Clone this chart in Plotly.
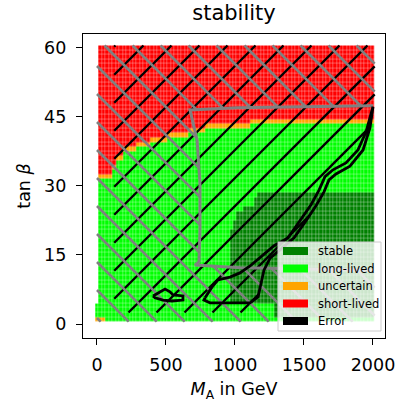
import numpy as np
import plotly.graph_objects as go

# ---------------- data ----------------
ma_values = list(range(0, 2001, 25))          # M_A scan points (GeV)
tanb_values = list(range(1, 61))              # tan(beta) scan points

category_names = ["stable", "long-lived", "uncertain", "short-lived", "Error"]
category_colors = ["#008000", "#00ff00", "#ffa500", "#ff0000", "#000000"]

# tan(beta) row of the "uncertain" band, per M_A segment (segment start, GeV)
band_ma_start = [25, 125, 150, 200, 300, 400, 525, 675, 800, 1125]
band_tanb = [32, 34, 36, 38, 39, 40, 41, 42, 43, 44]

# stable region: top row per M_A segment, bottom row per M_A segment
stable_ma_start = [975, 1000, 1025, 1075, 1150, 1175]
stable_top = [20, 22, 24, 25, 27, 28]
stable_bottom_ma_start = [975, 1300]
stable_bottom = [5, 2]

# special low-M_A / low-tan(beta) cells
first_col_uncertain_rows = [1]
first_col_long_rows = [2, 3, 4]
low_row_uncertain_ma = [0, 25, 50]

# grey hatched region (C-shaped) and its outline
grey_region_ma = [0, 2012, 2012, 2000, 1014, 674, 725, 746, 746, 739, 710, 1036, 2000, 2012, 2012, 0]
grey_region_tb = [60.5, 60.5, 47.4, 47.4, 47.0, 46.5, 40.0, 30.7, 20.4, 13.5, 12.8, 12.2, 11.7, 11.7, 0.5, 0.5]
grey_line_ma = [2000, 1014, 674, 725, 746, 746, 739, 710, 1036, 2000]
grey_line_tb = [47.4, 47.0, 46.5, 40.0, 30.7, 20.4, 13.5, 12.8, 12.2, 11.7]

# black contour: thin sliver (upper side, then lower side) and a small island
sliver_upper_ma = [783, 833, 877, 964, 1036, 1109, 1196, 1283, 1384, 1478, 1551, 1609, 1652, 1710, 1804, 1891, 1949, 2000]
sliver_upper_tb = [5.7, 8.0, 9.6, 10.2, 11.1, 12.6, 14.8, 17.0, 18.7, 22.6, 25.9, 29.1, 32.0, 33.5, 35.0, 37.8, 41.7, 47.2]
sliver_lower_ma = [2000, 1978, 1928, 1833, 1732, 1681, 1645, 1587, 1514, 1428, 1326, 1254, 1210, 1188, 1167, 1109,
                   819, 775, 783]
sliver_lower_tb = [47.2, 42.6, 37.8, 34.3, 32.6, 31.3, 28.7, 25.7, 22.4, 18.7, 16.1, 14.3, 11.7, 8.5, 5.9, 4.6,
                   4.6, 5.2, 5.7]
island_ma = [406, 442, 493, 529, 551, 623, 623, 543, 478, 420, 406]
island_tb = [6.1, 6.7, 7.6, 7.0, 6.3, 6.1, 5.2, 5.0, 5.2, 5.7, 6.1]

# black hatched region: left/top box, closed along the lower side of the sliver
black_box_ma = [1145, 125, 125, 2012, 2012]
black_box_tb = [2.5, 2.5, 60.5, 60.5, 47.4]

x_ticks = [0, 500, 1000, 1500, 2000]
y_ticks = [0, 15, 30, 45, 60]


# ---------------- build category grid ----------------
def seg_lookup(starts, vals, m):
    v = None
    for s, val in zip(starts, vals):
        if m >= s:
            v = val
    return v


z = np.full((len(tanb_values), len(ma_values)), np.nan)
for j, m in enumerate(ma_values):
    band = seg_lookup(band_ma_start, band_tanb, m)
    top = seg_lookup(stable_ma_start, stable_top, m)
    bot = seg_lookup(stable_bottom_ma_start, stable_bottom, m)
    for i, t in enumerate(tanb_values):
        if m == 0:
            if t in first_col_uncertain_rows:
                z[i, j] = 2
            elif t in first_col_long_rows:
                z[i, j] = 1
            continue
        if t < band:
            c = 1
        elif t == band:
            c = 2
        else:
            c = 3
        if t == 1 and m in low_row_uncertain_ma:
            c = 2
        if top is not None and bot <= t <= top:
            c = 0
        z[i, j] = c

n = len(category_colors)
colorscale = []
for k, col in enumerate(category_colors):
    colorscale.append([k / n, col])
    colorscale.append([(k + 1) / n, col])

# ---------------- geometry helpers ----------------
L, R, T, B = 83, 385, 34, 338
W, H = R - L, B - T
XR = [-101.4, 2087.0]
YR = [-3.04, 63.0]
SX = W / (XR[1] - XR[0])
SY = H / (YR[1] - YR[0])


def hatch(poly_x, poly_y, slope, spacing, phase):
    """Hatch lines (45 deg on screen) clipped to a polygon; returns data-space x, y lists."""
    u = [(x - XR[0]) * SX for x in poly_x]
    v = [(y - YR[0]) * SY for y in poly_y]
    npts = len(u)
    cs = [v[i] - slope * u[i] for i in range(npts)]
    k0 = int(np.floor((min(cs) - phase) / spacing))
    k1 = int(np.ceil((max(cs) - phase) / spacing))
    hx, hy = [], []
    for k in range(k0, k1 + 1):
        c = phase + k * spacing
        pts = []
        for i in range(npts):
            u1, v1 = u[i], v[i]
            u2, v2 = u[(i + 1) % npts], v[(i + 1) % npts]
            f1 = v1 - slope * u1 - c
            f2 = v2 - slope * u2 - c
            if (f1 > 0) != (f2 > 0):
                a = f1 / (f1 - f2)
                pts.append(u1 + a * (u2 - u1))
        pts.sort()
        for a_u, b_u in zip(pts[0::2], pts[1::2]):
            for uu in (a_u, b_u):
                hx.append(uu / SX + XR[0])
                hy.append((slope * uu + c) / SY + YR[0])
            hx.append(None)
            hy.append(None)
    return hx, hy


FONT = "DejaVu Sans"
fig = go.Figure()
fig.add_trace(go.Heatmap(x=ma_values, y=tanb_values, z=z, colorscale=colorscale,
                         zmin=-0.5, zmax=n - 0.5, showscale=False, xgap=0.3, ygap=0.3,
                         hoverinfo="skip"))

black_poly_x = black_box_ma + sliver_lower_ma[:15]
black_poly_y = black_box_tb + sliver_lower_tb[:15]
bx, by = hatch(black_poly_x, black_poly_y, 1, 28, 8)
fig.add_trace(go.Scatter(x=bx, y=by, mode="lines", line=dict(width=2.4, color="#000000"),
                         hoverinfo="skip", showlegend=False))
gx, gy = hatch(grey_region_ma, grey_region_tb, -1, 28, 6)
fig.add_trace(go.Scatter(x=gx, y=gy, mode="lines", line=dict(width=2.6, color="#808080"),
                         hoverinfo="skip", showlegend=False))
fig.add_trace(go.Scatter(x=grey_line_ma, y=grey_line_tb, mode="lines",
                         line=dict(width=3, color="#808080"), hoverinfo="skip", showlegend=False))
fig.add_trace(go.Scatter(x=sliver_upper_ma + sliver_lower_ma, y=sliver_upper_tb + sliver_lower_tb, mode="lines",
                         line=dict(width=2.8, color="#000000"), hoverinfo="skip", showlegend=False))
fig.add_trace(go.Scatter(x=island_ma, y=island_tb, mode="lines",
                         line=dict(width=2.8, color="#000000"), hoverinfo="skip", showlegend=False))


# ---------------- layout ----------------
def pp(px, py):
    return (px - L) / W, (B - py) / H


shapes = []
annotations = []
bx0, by0 = pp(278, 331)
bx1, by1 = pp(381, 242)
shapes.append(dict(type="rect", xref="paper", yref="paper", x0=bx0, y0=by0, x1=bx1, y1=by1,
                   fillcolor="rgba(255,255,255,0.8)", line=dict(color="#cccccc", width=1), layer="above"))
row_y = [251, 268.5, 286, 303.5, 321]
for name, col, ry in zip(category_names, category_colors, row_y):
    x0, y0 = pp(283, ry + 4)
    x1, y1 = pp(308, ry - 4)
    shapes.append(dict(type="rect", xref="paper", yref="paper", x0=x0, y0=y0, x1=x1, y1=y1,
                       fillcolor=col, line=dict(width=0), layer="above"))
    tx, ty = pp(316, ry)
    annotations.append(dict(x=tx, y=ty, xref="paper", yref="paper", text=name, showarrow=False,
                            xanchor="left", yanchor="middle", font=dict(family=FONT, size=11.5, color="#000000")))

axis_common = dict(showgrid=False, zeroline=False, ticks="outside", ticklen=6, tickwidth=1.3,
                   tickcolor="#000000", showline=True, linecolor="#000000", linewidth=1.3, mirror=True,
                   automargin=False,
                   tickfont=dict(family=FONT, size=17.5, color="#000000"))

fig.update_layout(
    width=400, height=402,
    margin=dict(l=L, r=400 - R, t=T, b=402 - B, autoexpand=False),
    paper_bgcolor="white", plot_bgcolor="white",
    showlegend=False,
    title=dict(text="stability", x=(L + R) / 2 / 400, xanchor="center", y=1 - 13 / 402, yanchor="middle",
               font=dict(family=FONT, size=21, color="#000000")),
    xaxis=dict(range=XR, tickvals=x_ticks, ticklabelstandoff=5, **axis_common,
               title=dict(text="<i>M</i><sub>A</sub> in GeV", font=dict(family=FONT, size=17.5, color="#000000"),
                          standoff=8)),
    yaxis=dict(range=YR, tickvals=y_ticks, ticklabelstandoff=6, **axis_common,
               title=dict(text="tan <i>β</i>", font=dict(family=FONT, size=17.5, color="#000000"),
                          standoff=8)),
    shapes=shapes, annotations=annotations,
)

fig.write_html("out.html")
